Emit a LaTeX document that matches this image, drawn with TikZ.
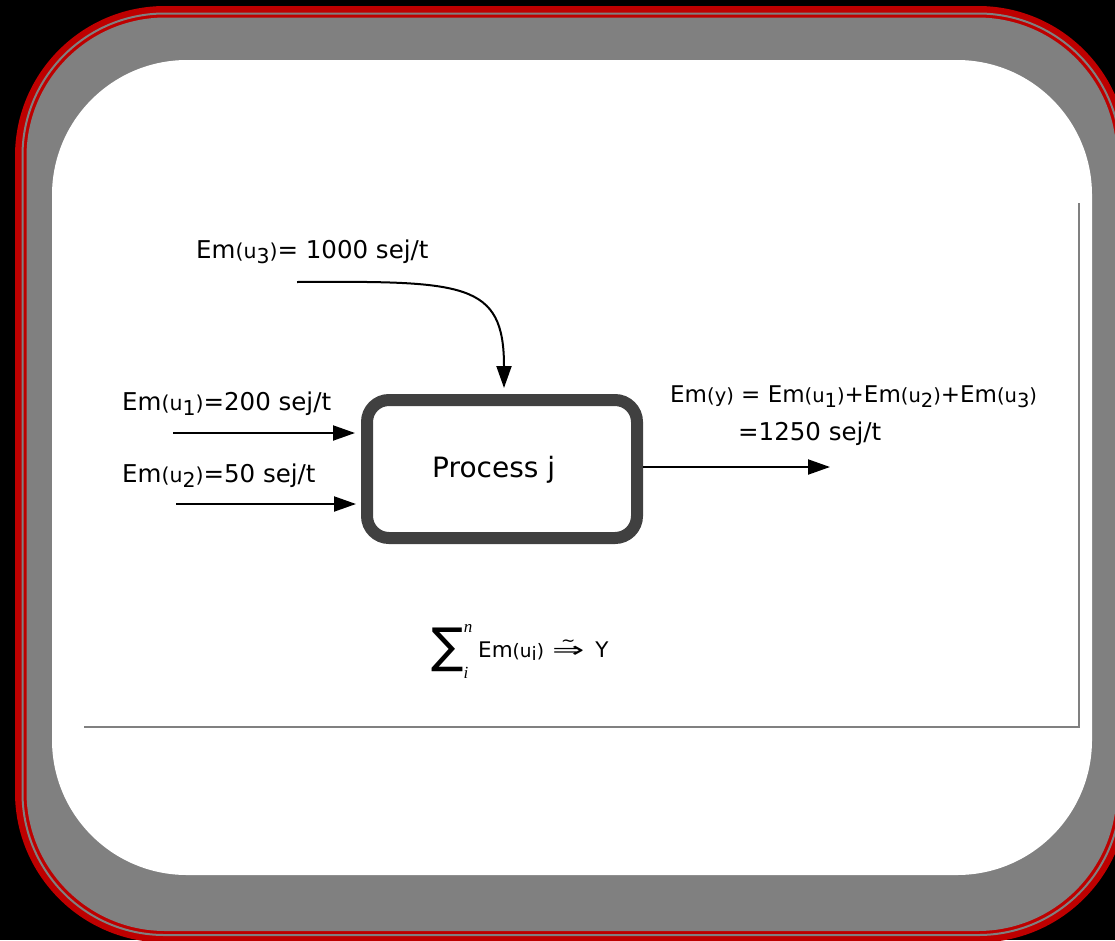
\documentclass[tikz,border=0pt]{standalone}
\usepackage{graphicx}
\usepackage{fontspec}
\setmainfont{DejaVu Sans}
\newfontfamily\limfont{Liberation Serif}
\usetikzlibrary{arrows.meta}
\definecolor{framered}{RGB}{190,0,0}
\definecolor{bandgray}{RGB}{128,128,128}
\definecolor{boxgray}{RGB}{64,64,64}
% emergy of an input: "Em" with a smaller "(u_k)"
\newcommand\emof[1]{Em{\fontsize{20.5}{22}\selectfont(u\raisebox{-5pt}{#1})}}
% double arrow with a tilde above it
\newcommand\tildearrow{\ooalign{\scalebox{1.8}[1]{⇒}\cr\hfil\raisebox{11pt}{\fontsize{17}{17}\selectfont∼}\hfil\cr}}
\begin{document}
\begin{tikzpicture}[x=1pt,y=-1pt,
  flow/.style={line width=2pt,-{Triangle[length=22pt,width=15pt]}},
  lbl/.style={font=\fontsize{24.5}{26}\selectfont, inner sep=0pt, anchor=base west},
  limit/.style={font=\limfont\itshape\fontsize{17}{18}\selectfont, inner sep=0pt},
  procbox/.style={draw=boxgray, fill=white, line width=12pt, rounded corners=22pt,
    minimum width=270pt, minimum height=138pt, inner sep=0pt},
]
\useasboundingbox (0,0) rectangle (1115,940);
\clip (0,0) rectangle (1115,940);
% background and framed slide
\fill[black] (0,0) rectangle (1115,940);
\fill[framered, rounded corners=150pt] (15,6) rectangle (1128,942.5);
\draw[bandgray, line width=2pt, rounded corners=142pt] (22.5,13.5) rectangle (1120.5,935);
\fill[bandgray, rounded corners=139pt] (26.5,17.5) rectangle (1116.5,931);
\fill[white, rounded corners=135pt] (52,60) rectangle (1092,875);
\draw[bandgray, line width=1.5pt] (1079,203) -- (1079,727) -- (84,727);

% process
\node[procbox] (proc) at (502,469) {};
\node[inner sep=0pt, anchor=base west, font=\fontsize{28}{30}\selectfont] (ptext) at (432,477) {Process j};

% inputs
\node[lbl] (l3) at (196,258) {\emof{3}= 1000 sej/t};
\node[lbl] (l1) at (122,410) {\emof{1}=200 sej/t};
\node[lbl] (l2) at (122,482) {\emof{2}=50 sej/t};
\coordinate (u3s) at (297,282);
\coordinate (u1s) at (173,433);
\coordinate (u2s) at (176,504);
\draw[flow, shorten >=6pt] (u1s) -- (proc.west |- u1s);
\draw[flow, shorten >=5pt] (u2s) -- (proc.west |- u2s);
\draw[flow, shorten >=6pt] (u3s) .. controls (465,281) and (504,282) .. ([xshift=2pt]proc.north);

% output
\coordinate (yend) at (830,467);
\draw[flow] (proc.east |- yend) -- (yend);
\node[lbl, font=\fontsize{23}{26}\selectfont] (ly1) at (670,402) {Em{\fontsize{19.5}{22}\selectfont(y)} = Em{\fontsize{19.5}{22}\selectfont(u\raisebox{-5pt}{1})}+Em{\fontsize{19.5}{22}\selectfont(u\raisebox{-5pt}{2})}+Em{\fontsize{19.5}{22}\selectfont(u\raisebox{-5pt}{3})}};
\node[lbl] (ly2) at (738,440) {=1250 sej/t};

% summation statement
\node[inner sep=0pt, font=\fontsize{48}{50}\selectfont] (sigma) at (447.5,650) {∑};
\node[limit] (supn) at (468,628) {n};
\node[limit] (subi) at (466,673) {i};
\node[inner sep=0pt, anchor=base west, font=\fontsize{21.5}{24}\selectfont] (sumrest) at (478,657)
  {Em{\fontsize{18.5}{20}\selectfont(u\raisebox{-3pt}{i})}\hspace{8pt}\tildearrow\hspace{11pt}Y};
\end{tikzpicture}
\end{document}
